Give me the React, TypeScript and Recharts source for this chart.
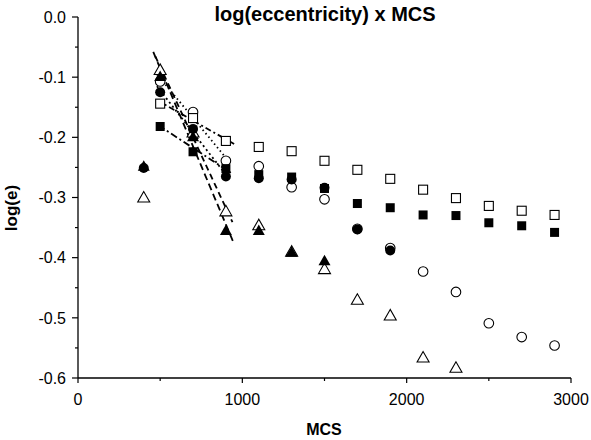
import React from "react";
import { ScatterChart, Scatter, XAxis, YAxis } from "recharts";

// MCS steps shared by every series
const mcs = [400, 500, 700, 900, 1100, 1300, 1500, 1700, 1900, 2100, 2300, 2500, 2700, 2900];

// log(e) per series, null where there is no point
const openSquare = [null, -0.144, -0.168, -0.206, -0.216, -0.223, -0.239, -0.254, -0.269, -0.287, -0.301, -0.314, -0.322, -0.329];
const filledSquare = [null, -0.182, -0.224, -0.252, -0.262, -0.266, -0.285, -0.31, -0.317, -0.329, -0.33, -0.342, -0.347, -0.358];
const openCircle = [null, -0.107, -0.158, -0.239, -0.248, -0.283, -0.303, -0.352, -0.384, -0.423, -0.457, -0.509, -0.532, -0.546];
const filledCircle = [-0.251, -0.125, -0.186, -0.265, -0.268, -0.27, -0.284, -0.353, -0.388, null, null, null, null, null];
const openTriangle = [-0.3, -0.088, -0.192, -0.323, -0.346, -0.39, -0.419, -0.47, -0.496, -0.566, -0.583, null, null, null];
const filledTriangle = [-0.248, -0.099, -0.199, -0.355, -0.355, -0.391, -0.405, null, null, null, null, null, null, null];

// linear fits over the early points (end points)
const fitFilledTriangle = [[458, -0.058], [945, -0.374]];
const fitOpenTriangle = [[470, -0.065], [940, -0.341]];
const fitFilledCircle = [[480, -0.115], [920, -0.269]];
const fitOpenCircle = [[480, -0.095], [930, -0.244]];
const fitOpenSquare = [[480, -0.138], [950, -0.211]];
const fitFilledSquare = [[490, -0.18], [930, -0.259]];

const xTicks = [0, 500, 1000, 1500, 2000, 2500, 3000];
const yTicks = [0, -0.05, -0.1, -0.15, -0.2, -0.25, -0.3, -0.35, -0.4, -0.45, -0.5, -0.55, -0.6];

const FONT = "'Liberation Sans', Arial, sans-serif";

const toPoints = (ys: (number | null)[]) =>
  mcs.map((x, i) => ({ x, y: ys[i] })).filter((p) => p.y !== null);
const toLine = (pts: number[][]) => pts.map(([x, y]) => ({ x, y }));

const OpenSquare = ({ cx, cy }: any) => (
  <rect x={cx - 4.5} y={cy - 4.5} width={9} height={9} fill="#fff" stroke="#000" strokeWidth={1.1} />
);
const FilledSquare = ({ cx, cy }: any) => <rect x={cx - 4.5} y={cy - 4.5} width={9} height={9} fill="#000" />;
const OpenCircle = ({ cx, cy }: any) => <circle cx={cx} cy={cy} r={4.8} fill="#fff" stroke="#000" strokeWidth={1.1} />;
const FilledCircle = ({ cx, cy }: any) => <circle cx={cx} cy={cy} r={5} fill="#000" />;
const tri = (cx: number, cy: number) => `${cx},${cy - 6} ${cx - 6},${cy + 4.5} ${cx + 6},${cy + 4.5}`;
const OpenTriangle = ({ cx, cy }: any) => <polygon points={tri(cx, cy)} fill="#fff" stroke="#000" strokeWidth={1.1} />;
const FilledTriangle = ({ cx, cy }: any) => <polygon points={tri(cx, cy)} fill="#000" />;
const NoDot = () => <g />;

const YTick = ({ x, y, payload }: any) => {
  const v = payload.value;
  const major = Math.abs(v * 10 - Math.round(v * 10)) < 1e-6;
  return (
    <g>
      <line x1={x} x2={x - (major ? 6 : 3)} y1={y} y2={y} stroke="#000" strokeWidth={1.2} />
      {major && (
        <text x={x - 12} y={y} dy={5.7} textAnchor="end" fontSize={16} fontFamily={FONT} fill="#000">
          {v.toFixed(1)}
        </text>
      )}
    </g>
  );
};

const XTick = ({ x, y, payload }: any) => {
  const v = payload.value;
  const major = v % 1000 === 0;
  return (
    <g>
      <line x1={x} x2={x} y1={y} y2={y + (major ? 5 : 3)} stroke="#000" strokeWidth={1.2} />
      {major && (
        <text x={x} y={y + 27} textAnchor="middle" fontSize={16} fontFamily={FONT} fill="#000">
          {v}
        </text>
      )}
    </g>
  );
};

const fitStyle = (dash: string) => ({ stroke: "#000", strokeWidth: 1.8, strokeDasharray: dash });

export default function App() {
  return (
    <div style={{ position: "absolute", left: 0, top: 0, width: 591, height: 440, background: "#fff" }}>
      <ScatterChart width={591} height={440} margin={{ top: 17, right: 20, bottom: 0, left: 0 }}>
        <XAxis
          type="number"
          dataKey="x"
          domain={[0, 3000]}
          ticks={xTicks}
          interval={0}
          tickSize={0}
          tickMargin={0}
          tick={<XTick />}
          height={62}
          axisLine={{ stroke: "#000", strokeWidth: 1.3 }}
          allowDataOverflow
        />
        <YAxis
          type="number"
          dataKey="y"
          domain={[-0.6, 0]}
          ticks={yTicks}
          interval={0}
          tickSize={0}
          tickMargin={0}
          tick={<YTick />}
          width={78}
          axisLine={{ stroke: "#000", strokeWidth: 1.3 }}
          allowDataOverflow
        />

        <Scatter data={toLine(fitFilledTriangle)} line={fitStyle("7 4")} shape={<NoDot />} isAnimationActive={false} />
        <Scatter data={toLine(fitOpenTriangle)} line={fitStyle("6 4")} shape={<NoDot />} isAnimationActive={false} />
        <Scatter data={toLine(fitFilledCircle)} line={fitStyle("2 3")} shape={<NoDot />} isAnimationActive={false} />
        <Scatter data={toLine(fitOpenCircle)} line={fitStyle("1.5 3")} shape={<NoDot />} isAnimationActive={false} />
        <Scatter data={toLine(fitOpenSquare)} line={fitStyle("6 3 2 3")} shape={<NoDot />} isAnimationActive={false} />
        <Scatter data={toLine(fitFilledSquare)} line={fitStyle("7 3 2 3")} shape={<NoDot />} isAnimationActive={false} />

        <Scatter data={toPoints(openTriangle)} shape={<OpenTriangle />} isAnimationActive={false} />
        <Scatter data={toPoints(openCircle)} shape={<OpenCircle />} isAnimationActive={false} />
        <Scatter data={toPoints(openSquare)} shape={<OpenSquare />} isAnimationActive={false} />
        <Scatter data={toPoints(filledSquare)} shape={<FilledSquare />} isAnimationActive={false} />
        <Scatter data={toPoints(filledTriangle)} shape={<FilledTriangle />} isAnimationActive={false} />
        <Scatter data={toPoints(filledCircle)} shape={<FilledCircle />} isAnimationActive={false} />

        <text x={325} y={21} textAnchor="middle" fontSize={20} fontWeight="bold" fontFamily={FONT} fill="#000">
          log(eccentricity) x MCS
        </text>
        <text x={324} y={435} textAnchor="middle" fontSize={16} fontWeight="bold" fontFamily={FONT} fill="#000">
          MCS
        </text>
        <text
          x={17}
          y={208}
          textAnchor="middle"
          fontSize={17}
          fontWeight="bold"
          fontFamily={FONT}
          fill="#000"
          transform="rotate(-90 17 208)"
        >
          log(e)
        </text>
      </ScatterChart>
    </div>
  );
}
